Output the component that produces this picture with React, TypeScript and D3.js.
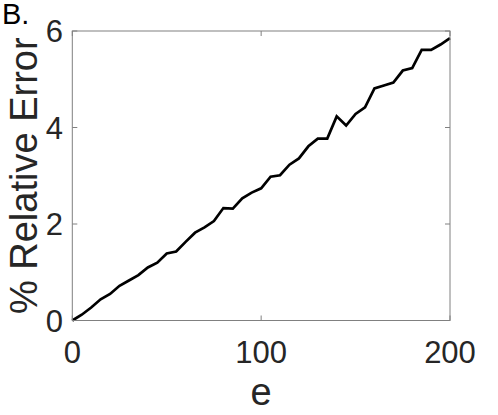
import React, { useEffect } from "react";
import * as d3 from "d3";

const eValues = [0,5,10,15,20,25,30,35,40,45,50,55,60,65,70,75,80,85,90,95,100,105,110,115,120,125,130,135,140,145,150,155,160,165,170,175,180,185,190,195,200];
const errValues = [0,0.12,0.27,0.44,0.55,0.72,0.83,0.94,1.10,1.20,1.39,1.43,1.63,1.82,1.93,2.06,2.33,2.32,2.53,2.65,2.74,2.98,3.01,3.23,3.36,3.61,3.77,3.77,4.23,4.04,4.28,4.42,4.81,4.87,4.93,5.18,5.23,5.61,5.61,5.72,5.85];
const xTicks = [0, 100, 200];
const yTicks = [0, 2, 4, 6];

const W = 498, H = 415;
const left = 72.3, right = 450, top = 31, bottom = 320.5;
const FONT = "'Liberation Sans', Arial, Helvetica, sans-serif";
const TXT = "#262626";
const AX = "#808080";

export default function App() {
  useEffect(() => { document.body.style.margin = "0"; }, []);
  const x = d3.scaleLinear().domain([0, 200]).range([left, right]);
  const y = d3.scaleLinear().domain([0, 6]).range([bottom, top]);
  const line = d3.line<number>().x((_, i) => x(eValues[i])).y((d) => y(d));
  const tl = 5;
  return (
    <svg width={W} height={H} style={{ display: "block", background: "#fff" }}>
      <rect x={0} y={0} width={W} height={H} fill="#fff" />
      <text x={2} y={24} fontFamily={FONT} fontSize={29} fill="#000">B.</text>
      <path d={line(errValues) || ""} fill="none" stroke="#000" strokeWidth={2.7} strokeLinejoin="miter" />
      <rect x={left} y={top} width={right - left} height={bottom - top} fill="none" stroke={AX} strokeWidth={1} />
      {xTicks.map((t) => (
        <g key={"x" + t}>
          <line x1={x(t)} x2={x(t)} y1={bottom} y2={bottom - tl} stroke={AX} />
          <line x1={x(t)} x2={x(t)} y1={top} y2={top + tl} stroke={AX} />
          <text x={x(t)} y={363} textAnchor="middle" fontFamily={FONT} fontSize={31} fill={TXT}>{t}</text>
        </g>
      ))}
      {yTicks.map((t) => (
        <g key={"y" + t}>
          <line x1={left} x2={left + tl} y1={y(t)} y2={y(t)} stroke={AX} />
          <line x1={right} x2={right - tl} y1={y(t)} y2={y(t)} stroke={AX} />
          <text x={63} y={y(t) + 11} textAnchor="end" fontFamily={FONT} fontSize={31} fill={TXT}>{t}</text>
        </g>
      ))}
      <text x={x(100)} y={405} textAnchor="middle" fontFamily={FONT} fontSize={38} fill={TXT}>e</text>
      <text transform={`translate(37, ${(top + bottom) / 2}) rotate(-90)`} textAnchor="middle" fontFamily={FONT} fontSize={38} fill={TXT}>% Relative Error</text>
    </svg>
  );
}
